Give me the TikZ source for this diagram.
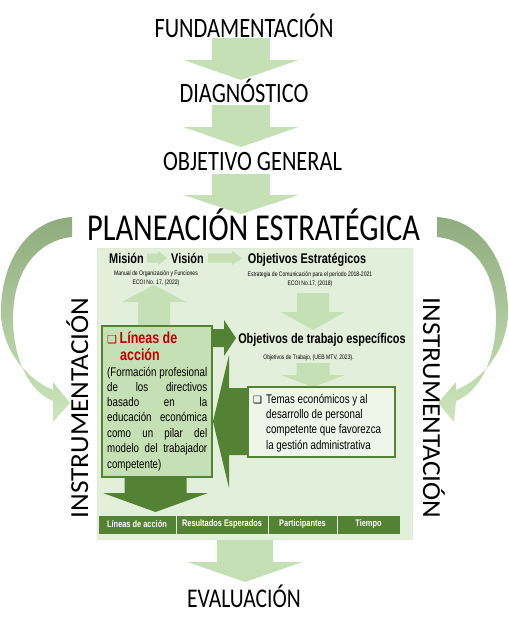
\documentclass[tikz,border=0pt]{standalone}
\usepackage{fontspec}
\usepackage{xcolor}
\usepackage{tikz}

\newfontfamily\headfont[FakeStretch=0.8]{Carlito}
\newfontfamily\sidefont[FakeStretch=1.05]{Carlito}
\newfontfamily\bodyfont[FakeStretch=0.78]{Liberation Sans}
\newfontfamily\symfont{DejaVu Sans}

\definecolor{lightgreen}{HTML}{C5E0B4}
\definecolor{panelgreen}{HTML}{E2EFDA}
\definecolor{darkgreen}{HTML}{548235}
\definecolor{sagegreen}{HTML}{8FAC7E}
\definecolor{palegreen}{HTML}{CDE6BD}
\definecolor{boxfill}{HTML}{EEF6E9}
\definecolor{redtitle}{HTML}{C00000}

% block arrows: centre, start, head start, tip, shaft half width, head half width, colour
\newcommand{\vblock}[7]{\fill[#7] ({#1-#5},#2) -- ({#1+#5},#2) -- ({#1+#5},#3) -- ({#1+#6},#3) -- (#1,#4) -- ({#1-#6},#3) -- ({#1-#5},#3) -- cycle;}
\newcommand{\hblock}[7]{\fill[#7] (#2,{#1-#5}) -- (#3,{#1-#5}) -- (#3,{#1-#6}) -- (#4,#1) -- (#3,{#1+#6}) -- (#3,{#1+#5}) -- (#2,{#1+#5}) -- cycle;}

\tikzset{
  stage/.style={anchor=base, inner sep=0pt, font=\headfont\fontsize{28}{30}\selectfont},
  side/.style={anchor=base, inner sep=0pt, font=\sidefont\fontsize{26}{28}\selectfont},
  head/.style={anchor=base, inner sep=0pt, font=\bodyfont\bfseries\fontsize{14}{16}\selectfont},
  cite/.style={anchor=base, inner sep=0pt, font=\bodyfont\fontsize{6.5}{8}\selectfont},
  paraline/.style={anchor=base west, inner sep=0pt, font=\bodyfont\fontsize{12.5}{15}\selectfont},
  greenbox/.style={draw=darkgreen, line width=2pt, inner sep=0pt},
  cell/.style={draw=panelgreen, line width=0.8pt, fill=darkgreen, text=white, minimum height=19pt, inner sep=0pt, font=\bodyfont\bfseries\fontsize{9.5}{10}\selectfont},
}

\begin{document}
\begin{tikzpicture}[x=1pt, y=-1pt]
    \useasboundingbox (0,0) rectangle (509,633);

    % curved arrows
    \shade[top color=sagegreen, bottom color=palegreen] (72,217) .. controls (25,220) and (0,265) .. (1,315)
        .. controls (3,350) and (25,378) .. (53,390) -- (53,382) -- (70,403) -- (53,422) -- (53,401)
        .. controls (30,392) and (13,360) .. (13,318) .. controls (13,268) and (40,240) .. (72,237) -- cycle;
    \shade[top color=sagegreen, bottom color=palegreen] (437,217) .. controls (484,220) and (509,265) .. (508,315)
        .. controls (506,350) and (485,378) .. (456,390) -- (456,382) -- (438,403) -- (454,422) -- (456,401)
        .. controls (479,392) and (496,360) .. (496,318) .. controls (496,268) and (470,240) .. (437,237) -- cycle;

    % main sequence
    \vblock{241}{38}{60}{80}{29}{57.5}{lightgreen}
    \vblock{241}{105}{127}{147}{29}{57.5}{lightgreen}
    \vblock{241}{174}{195}{214}{29}{57.5}{lightgreen}

    \node[stage] (fund) at (244,37) {FUNDAMENTACIÓN};
    \node[stage] (diag) at (244,102) {DIAGNÓSTICO};
    \node[stage] (objgen) at (252.5,170) {OBJETIVO GENERAL};
    \node[stage, font=\headfont\fontsize{38}{40}\selectfont] (plan) at (253.5,240) {PLANEACIÓN ESTRATÉGICA};

    \node[side, rotate=90] (instrL) at (88,408) {INSTRUMENTACIÓN};
    \node[side, rotate=-90] (instrR) at (423,408) {INSTRUMENTACIÓN};

    % panel
    \draw[fill=panelgreen, draw=panelgreen!85!lightgreen] (97,248) rectangle (412,539);

    \node[head] (mision) at (126.5,263) {Misión};
    \node[head] (vision) at (187.5,263) {Visión};
    \node[head] (objest) at (307,263) {Objetivos Estratégicos};
    \hblock{258}{147}{158}{167}{4.5}{7}{lightgreen}
    \hblock{258}{208}{232}{242}{4.5}{7}{lightgreen}

    \node[cite] (manual) at (156,275) {Manual de Organización y Funciones};
    \node[cite] (ecoi1) at (156,284) {ECOI No. 17, (2022)};
    \node[cite] (estrat) at (310,276) {Estrategia de Comunicación para el período 2018-2021};
    \node[cite] (ecoi2) at (310,285) {ECOI No.17, (2018)};

    \vblock{154}{327}{302}{285}{16}{32}{lightgreen}
    \vblock{313}{293}{312}{330}{16}{32}{lightgreen}
    \vblock{313}{363}{375}{387}{16.5}{32}{lightgreen}

    % lineas de accion
    \node[greenbox, fill=lightgreen, minimum width=110pt, minimum height=151pt] (lineas) at (157,401.5) {};
    \node[anchor=base west, inner sep=0pt, text=redtitle, font=\bodyfont\bfseries\fontsize{16}{17}\selectfont] (tit1) at (107,343) {{\symfont\fontsize{11}{11}\selectfont ❑}\,Líneas de};
    \node[anchor=base west, inner sep=0pt, text=redtitle, font=\bodyfont\bfseries\fontsize{16}{17}\selectfont] (tit2) at (120,360) {acción};
    \foreach \ln [count=\k] in {{(Formación profesional}, {de los directivos}, {basado en la}, {educación económica}, {como un pilar del}, {modelo del trabajador}}
        \node[paraline] (p\k) at (107,{376+(\k-1)*15.33}) {\makebox[100pt][s]{\ln}};
    \node[paraline] (p7) at (107,468) {competente)};

    \hblock{338}{211}{224}{236}{9}{18}{darkgreen}
    \node[head, font=\bodyfont\bfseries\fontsize{14}{16}\selectfont] (objtrab) at (322,343) {Objetivos de trabajo específicos};
    \node[cite] (objcite) at (308.5,359) {Objetivos de Trabajo, (UEB MTV, 2023).};

    % temas
    \hblock{421.5}{250}{229}{213}{33.5}{66.5}{darkgreen}
    \node[greenbox, fill=boxfill, minimum width=147pt, minimum height=70pt] (temas) at (321.5,422) {};
    \node[paraline] (t1) at (253,403) {\makebox[13pt][l]{\symfont\fontsize{10}{10}\selectfont ❑}Temas económicos y al};
    \node[paraline] (t2) at (266,418.3) {desarrollo de personal};
    \node[paraline] (t3) at (266,433.6) {competente que favorezca};
    \node[paraline] (t4) at (266,449) {la gestión administrativa};

    \vblock{155.5}{476}{493}{512}{31}{52.5}{darkgreen}

    % table
    \node[cell, minimum width=78pt] (col1) at (137,524.5) {Líneas de acción};
    \node[cell, minimum width=92pt] (col2) at (222,524.5) {Resultados Esperados};
    \node[cell, minimum width=69pt] (col3) at (302.5,524.5) {Participantes};
    \node[cell, minimum width=63pt] (col4) at (368.5,524.5) {Tiempo};

    % evaluacion
    \vblock{245}{540}{562}{582}{28}{57.5}{lightgreen}
    \node[stage, font=\headfont\fontsize{27}{29}\selectfont] (eval) at (244,607) {EVALUACIÓN};
\end{tikzpicture}
\end{document}
